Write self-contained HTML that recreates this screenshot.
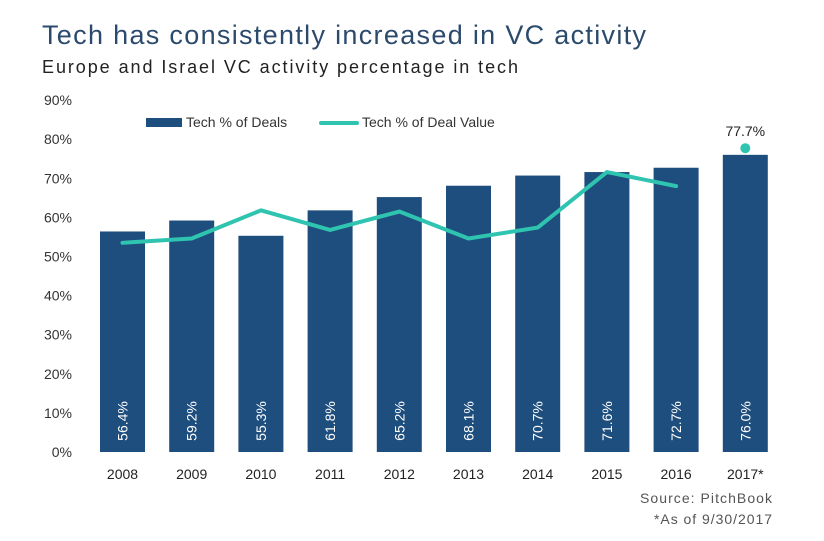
<!DOCTYPE html>
<html><head><meta charset="utf-8"><style>
body{margin:0;background:#fff;font-family:"Liberation Sans",sans-serif;}
</style></head><body>
<svg width="824" height="536" xmlns="http://www.w3.org/2000/svg">
<text x="42" y="44" font-size="27" fill="#2b4a6c" textLength="604" lengthAdjust="spacing">Tech has consistently increased in VC activity</text>
<text x="42" y="73" font-size="18" fill="#222" textLength="476" lengthAdjust="spacing">Europe and Israel VC activity percentage in tech</text>
<g id="yaxis"></g><g id="bars"></g><g id="line"></g><g id="xaxis"></g>
<g>
<rect x="146" y="118" width="36" height="9" fill="#1e4e7d"/>
<text x="186" y="127" font-size="14" fill="#333">Tech % of Deals</text>
<line x1="321" y1="123" x2="357" y2="123" stroke="#2ec4b0" stroke-width="4" stroke-linecap="round"/>
<text x="362" y="127" font-size="14" fill="#333">Tech % of Deal Value</text>
</g>
<text x="640" y="503" font-size="14" fill="#555" textLength="132" lengthAdjust="spacing">Source: PitchBook</text>
<text x="654" y="524" font-size="14" fill="#555" textLength="118" lengthAdjust="spacing">*As of 9/30/2017</text>
</svg>
<script>
const categories=["2008","2009","2010","2011","2012","2013","2014","2015","2016","2017*"];
const deals=[56.4,59.2,55.3,61.8,65.2,68.1,70.7,71.6,72.7,76.0];
const dealValue=[53.5,54.6,61.8,56.8,61.5,54.6,57.4,71.6,68.0,null];
const lastValue=77.7;
const yTicks=[0,10,20,30,40,50,60,70,80,90];
const NS="http://www.w3.org/2000/svg";
const y=v=>452-v*3.91;
const x=i=>122.5+i*69.2;
function mk(t,a,p,txt){const e=document.createElementNS(NS,t);for(const k in a)e.setAttribute(k,a[k]);if(txt!=null)e.textContent=txt;p.appendChild(e);return e;}
const ya=document.getElementById('yaxis');
yTicks.forEach(t=>{const e=mk('text',{x:72,y:y(t)+5,'font-size':14,fill:'#333','text-anchor':'end'},ya,t+'%');

});
const bg=document.getElementById('bars'),xa=document.getElementById('xaxis');
deals.forEach((v,i)=>{const r=mk('rect',{x:x(i)-22.5,y:y(v),width:45,height:y(0)-y(v),fill:'#1e4e7d'},bg);


const t=mk('text',{x:0,y:0,'font-size':14,fill:'#fff','text-anchor':'middle',transform:`translate(${x(i)+5},421) rotate(-90)`},bg,v.toFixed(1)+'%');


const l=mk('text',{x:x(i),y:479,'font-size':14,fill:'#222','text-anchor':'middle'},xa,categories[i]);

});
const lg=document.getElementById('line');
const pts=dealValue.map((v,i)=>v==null?null:x(i)+','+y(v)).filter(p=>p);
const pl=mk('polyline',{points:pts.join(' '),fill:'none',stroke:'#2ec4b0','stroke-width':4,'stroke-linejoin':'round','stroke-linecap':'round'},lg);


const li=categories.length-1;
const d=mk('circle',{cx:x(li),cy:y(lastValue),r:5,fill:'#2ec4b0'},lg);


const dl=mk('text',{x:x(li),y:y(lastValue)-12,'font-size':14,fill:'#222','text-anchor':'middle'},lg,lastValue.toFixed(1)+'%');


</script>
</body></html>
